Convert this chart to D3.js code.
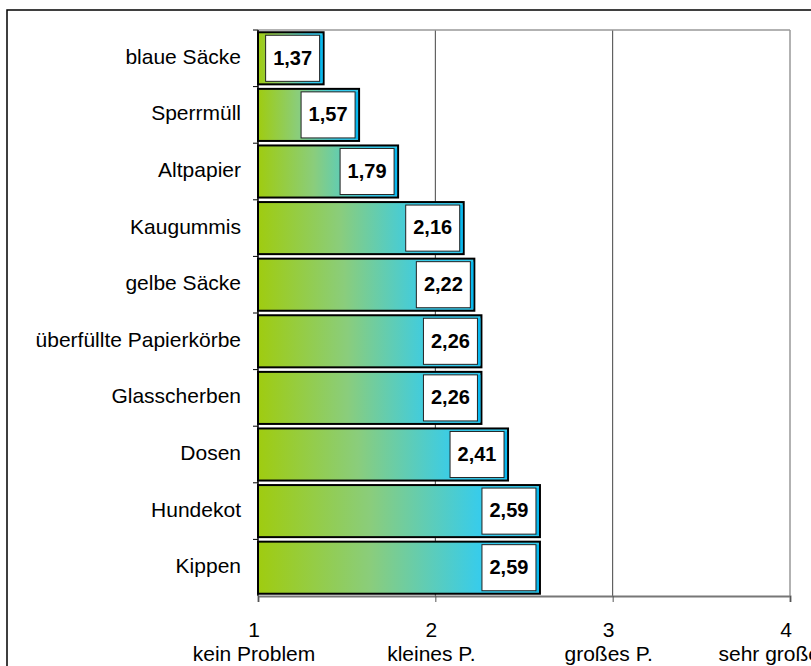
<!DOCTYPE html>
<html>
<head>
<meta charset="utf-8">
<script src="https://cdn.jsdelivr.net/npm/d3@7"></script>
<style>
  body { margin: 0; background: #fff; }
  text { font-family: "Liberation Sans", Arial, sans-serif; }
</style>
</head>
<body>
<div id="chart"></div>
<script>
// Data
const categories = ["blaue Säcke", "Sperrmüll", "Altpapier", "Kaugummis", "gelbe Säcke",
  "überfüllte Papierkörbe", "Glasscherben", "Dosen", "Hundekot", "Kippen"];
const values = [1.37, 1.57, 1.79, 2.16, 2.22, 2.26, 2.26, 2.41, 2.59, 2.59];
const tickValues = [1, 2, 3, 4];
const tickNames = ["kein Problem", "kleines P.", "großes P.", "sehr großes P."];

const W = 811, H = 666;
const margin = { top: 30, right: 21, bottom: 70, left: 258 };  // plot area 258..790 x 30..596

const svg = d3.select("#chart").append("svg")
  .attr("width", W)
  .attr("height", H);

// gradient for the bars (green -> cyan along each bar)
const grad = svg.append("defs").append("linearGradient")
  .attr("id", "barGrad")
  .attr("x1", "0%").attr("x2", "100%").attr("y1", "0%").attr("y2", "0%");
grad.append("stop").attr("offset", "0%").attr("stop-color", "#9fcc10");
grad.append("stop").attr("offset", "40%").attr("stop-color", "#8acd7c");
grad.append("stop").attr("offset", "80%").attr("stop-color", "#35ccee");
grad.append("stop").attr("offset", "100%").attr("stop-color", "#35ccee");

// outer frame
svg.append("rect")
  .attr("x", 7).attr("y", 10)
  .attr("width", W + 10).attr("height", H + 10)
  .attr("fill", "none").attr("stroke", "#000").attr("stroke-width", 1.5);

const x = d3.scaleLinear()
  .domain([1, 4])
  .range([margin.left, W - margin.right]);

const y = d3.scaleBand()
  .domain(categories)
  .range([margin.top, H - margin.bottom])
  .paddingInner(0.08)
  .paddingOuter(0.04);

const step = y.step();
const bandTop = d => y(d) - y.paddingInner() * step / 2;

// grid lines at 2, 3, 4
svg.append("g").selectAll("line")
  .data(tickValues.slice(1))
  .join("line")
  .attr("x1", d => x(d)).attr("x2", d => x(d))
  .attr("y1", margin.top).attr("y2", H - margin.bottom)
  .attr("stroke", d => d === 4 ? "#999" : "#444")
  .attr("stroke-width", d => d === 4 ? 1.5 : 1);

// top border of the plot area
svg.append("line")
  .attr("x1", x(1)).attr("x2", x(4))
  .attr("y1", margin.top).attr("y2", margin.top)
  .attr("stroke", "#999").attr("stroke-width", 1.5);

// bars
const bars = svg.append("g").selectAll("g")
  .data(categories.map((c, i) => ({ cat: c, val: values[i] })))
  .join("g");

bars.append("rect")
  .attr("x", x(1))
  .attr("y", d => y(d.cat))
  .attr("width", d => x(d.val) - x(1))
  .attr("height", y.bandwidth())
  .attr("fill", "url(#barGrad)")
  .attr("stroke", "#000")
  .attr("stroke-width", 2);

// cyan strip at right end of bar
bars.append("rect")
  .attr("x", d => x(d.val) - 5)
  .attr("y", d => y(d.cat) + 3)
  .attr("width", 4)
  .attr("height", y.bandwidth() - 5)
  .attr("fill", "#08b8ee");

// white value box
const boxW = 54;
bars.append("rect")
  .attr("x", d => x(d.val) - 4 - boxW)
  .attr("y", d => y(d.cat) + 3)
  .attr("width", boxW)
  .attr("height", y.bandwidth() - 6)
  .attr("fill", "#fff")
  .attr("stroke", "#222")
  .attr("stroke-width", 1);

bars.append("text")
  .attr("x", d => x(d.val) - 4 - boxW / 2)
  .attr("y", d => y(d.cat) + y.bandwidth() / 2 + 1)
  .attr("text-anchor", "middle")
  .attr("dominant-baseline", "middle")
  .attr("font-size", 20)
  .attr("font-weight", "bold")
  .text(d => d3.format(".2f")(d.val).replace(".", ","));

// y axis: line, band boundary ticks, labels
svg.append("line")
  .attr("x1", x(1)).attr("x2", x(1))
  .attr("y1", margin.top).attr("y2", H - margin.bottom)
  .attr("stroke", "#000").attr("stroke-width", 1.5);

svg.append("g").selectAll("line")
  .data(categories)
  .join("line")
  .attr("x1", x(1) - 5).attr("x2", x(1))
  .attr("y1", d => bandTop(d)).attr("y2", d => bandTop(d))
  .attr("stroke", "#000");

svg.append("g").selectAll("text")
  .data(categories)
  .join("text")
  .attr("x", 241)
  .attr("y", d => y(d) + y.bandwidth() / 2)
  .attr("text-anchor", "end")
  .attr("dominant-baseline", "middle")
  .attr("font-size", 21)
  .text(d => d);

// x axis
const xAxis = svg.append("g")
  .attr("transform", `translate(0,${H - margin.bottom})`)
  .call(d3.axisBottom(x).tickValues(tickValues).tickSize(6).tickFormat(""));
xAxis.select(".domain").attr("stroke", "#777").attr("stroke-width", 2);
xAxis.selectAll(".tick line").attr("stroke", "#555");

const lbl = svg.append("g").selectAll("text")
  .data(tickValues)
  .join("text")
  .attr("y", H - margin.bottom + 41)
  .attr("text-anchor", "middle")
  .attr("font-size", 21);
lbl.append("tspan").attr("x", d => x(d) - 4).text(d => d);
lbl.append("tspan").attr("x", d => x(d) - 4).attr("dy", 24).text((d, i) => tickNames[i]);
</script>
</body>
</html>
